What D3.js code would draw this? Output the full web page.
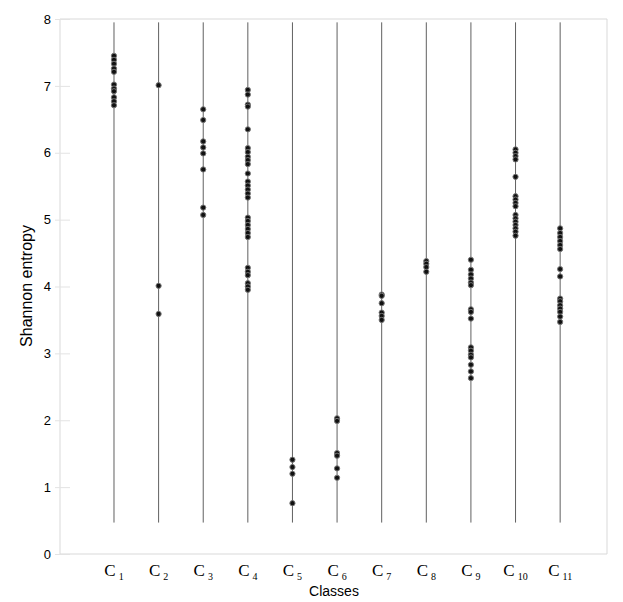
<!DOCTYPE html>
<html>
<head>
<meta charset="utf-8">
<script src="https://cdn.jsdelivr.net/npm/d3@7"></script>
<style>
  html, body { margin: 0; padding: 0; background: #fff; }
  svg { display: block; }
</style>
</head>
<body>
<svg id="chart" width="623" height="602"></svg>
<script>
// ---------- data ----------
const classes = ["C1","C2","C3","C4","C5","C6","C7","C8","C9","C10","C11"];
const classIndex = [1,2,3,4,5,6,7,8,9,10,11];
const c1  = [7.45,7.39,7.33,7.26,7.21,7.02,6.96,6.92,6.83,6.77,6.71];
const c2  = [7.01,4.01,3.59];
const c3  = [6.65,6.49,6.17,6.08,5.99,5.75,5.18,5.07];
const c4  = [6.94,6.87,6.72,6.69,6.35,6.07,6.01,5.94,5.89,5.83,5.69,5.57,5.51,5.45,5.39,5.33,
             5.03,4.98,4.92,4.86,4.80,4.74,4.28,4.22,4.17,4.05,4.00,3.95];
const c5  = [1.41,1.30,1.20,0.76];
const c6  = [2.03,1.99,1.51,1.47,1.28,1.14];
const c7  = [3.88,3.86,3.75,3.61,3.56,3.50];
const c8  = [4.38,4.34,4.29,4.22];
const c9  = [4.40,4.25,4.18,4.12,4.06,4.02,3.66,3.62,3.52,3.09,3.04,2.98,2.94,2.83,2.73,2.63];
const c10 = [6.05,6.00,5.95,5.90,5.64,5.35,5.30,5.25,5.20,5.07,5.02,4.97,4.92,4.87,4.82,4.76];
const c11 = [4.87,4.80,4.74,4.68,4.62,4.56,4.26,4.15,3.82,3.78,3.72,3.67,3.62,3.55,3.47];
const seriesValues = [c1,c2,c3,c4,c5,c6,c7,c8,c9,c10,c11];
const yTicks = [0,1,2,3,4,5,6,7,8];
const lineRange = [0.47, 7.95];

// ---------- layout ----------
const svg = d3.select("#chart");
const mLeft = 60, mRight = 607, mTop = 19, mBottom = 554;

const x = d3.scaleLinear().domain([-0.21, 12.05]).range([mLeft, mRight]);
const y = d3.scaleLinear().domain([0, 8]).range([mBottom, mTop]);

// frame
const frame = svg.append("g").attr("stroke", "#d9d9d9").attr("stroke-width", 1).attr("fill", "none");
frame.append("line").attr("x1", mLeft).attr("x2", mRight).attr("y1", y(8)).attr("y2", y(8));
frame.append("line").attr("x1", mLeft).attr("x2", mRight).attr("y1", y(0)).attr("y2", y(0));
frame.append("line").attr("x1", mLeft).attr("x2", mLeft).attr("y1", y(0)).attr("y2", y(8));
frame.append("line").attr("x1", mRight).attr("x2", mRight).attr("y1", y(0)).attr("y2", y(8));

// y axis
const yAxis = d3.axisLeft(y).tickValues(yTicks).tickFormat(d3.format("d")).tickSize(0).tickPadding(9);
const gy = svg.append("g").attr("transform", `translate(${mLeft},0)`).call(yAxis);
gy.select(".domain").remove();
gy.selectAll("text").attr("font-family", "Liberation Sans, Arial, sans-serif").attr("font-size", 13).attr("fill", "#000");
gy.selectAll(".tick").append("line").attr("x1", -5).attr("x2", 10).attr("stroke", "#e3e3e3");

// vertical class lines
svg.append("g").selectAll("line").data(classIndex).join("line")
  .attr("x1", d => x(d)).attr("x2", d => x(d))
  .attr("y1", y(lineRange[1])).attr("y2", y(lineRange[0]))
  .attr("stroke", "#606060").attr("stroke-width", 1);

// points
const pts = [];
seriesValues.forEach((arr, i) => arr.forEach(v => pts.push({c: classIndex[i], v})));
svg.append("g").selectAll("circle").data(pts).join("circle")
  .attr("cx", d => x(d.c)).attr("cy", d => y(d.v)).attr("r", 2.6)
  .attr("fill", "#111").attr("stroke", "#777").attr("stroke-width", 1);

// class labels
const labels = svg.append("g");
classes.forEach((name, i) => {
  const t = labels.append("text")
    .attr("x", x(classIndex[i])).attr("y", 576)
    .attr("text-anchor", "middle")
    .attr("font-family", "Liberation Serif, Times New Roman, serif")
    .attr("font-size", 17).attr("fill", "#000");
  t.append("tspan").text(name.slice(0,1));
  t.append("tspan").text(name.slice(1)).attr("font-size", 10).attr("dx", 3).attr("dy", 4);
});

// axis titles
svg.append("text").attr("x", 334).attr("y", 596).attr("text-anchor", "middle")
  .attr("font-family", "Liberation Sans, Arial, sans-serif").attr("font-size", 14)
  .text("Classes");
svg.append("text").attr("transform", "translate(32,286) rotate(-90)").attr("text-anchor", "middle")
  .attr("font-family", "Liberation Sans, Arial, sans-serif").attr("font-size", 16)
  .text("Shannon entropy");
</script>
</body>
</html>
